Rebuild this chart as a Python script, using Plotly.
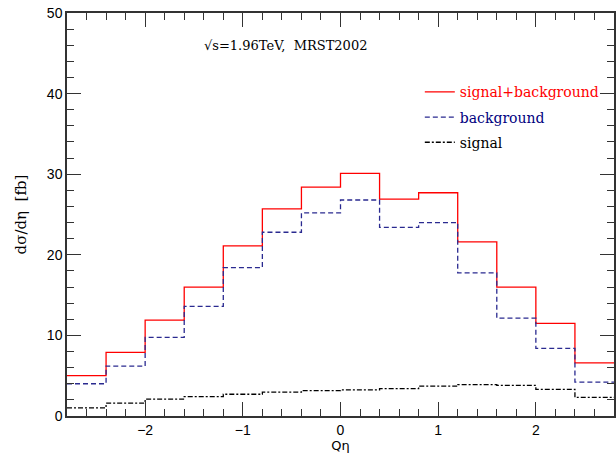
import plotly.graph_objects as go

# bin edges of Q*eta
bin_edges = [-2.8, -2.4, -2.0, -1.6, -1.2, -0.8, -0.4, 0.0, 0.4, 0.8, 1.2, 1.6, 2.0, 2.4, 2.8]
sig_plus_bkg = [5.0, 7.9, 11.9, 16.0, 21.1, 25.7, 28.4, 30.1, 26.9, 27.7, 21.6, 16.0, 11.5, 6.6]
background = [4.0, 6.2, 9.75, 13.6, 18.4, 22.8, 25.2, 26.8, 23.4, 24.0, 17.75, 12.15, 8.4, 4.2]
signal = [1.0, 1.6, 2.1, 2.4, 2.7, 2.95, 3.15, 3.25, 3.4, 3.7, 3.9, 3.8, 3.3, 2.3]

series = [
    ("signal+background", sig_plus_bkg, "#ff0000", "solid", "#ff0000"),
    ("background", background, "#2a2a90", "5px,3px", "#000080"),
    ("signal", signal, "#000000", "5px,2px,2px,2px", "#000000"),
]

fig = go.Figure()
for i, (name, vals, col, dash, tcol) in enumerate(series):
    fig.add_trace(go.Scatter(
        x=bin_edges, y=vals + [vals[-1]],
        mode="lines", line=dict(shape="hv", color=col, width=1.3, dash=dash),
        name=f"<span style='color:{tcol}'>{name}</span>",
        legendgroup=f"g{i}", hoverinfo="skip",
    ))

axis_common = dict(
    showline=True, linecolor="#333333", linewidth=1.5, mirror="ticks",
    ticks="inside", ticklen=14, tickwidth=1.2, tickcolor="#333333",
    showgrid=False, zeroline=False, ticklabeloverflow="allow",
    tickfont=dict(family="Liberation Sans, Arial", size=14, color="black"),
)

fig.update_layout(
    width=616, height=454,
    margin=dict(l=67, r=0, t=13, b=38),
    paper_bgcolor="white", plot_bgcolor="white",
    xaxis=dict(range=[-2.8, 2.8], dtick=1, tick0=0,
               minor=dict(dtick=0.2, ticklen=7, ticks="inside", tickcolor="#333333", tickwidth=1.2),
               title=dict(text="Qη", font=dict(family="DejaVu Sans", size=13, color="black"), standoff=2),
               **axis_common),
    yaxis=dict(range=[0, 50], dtick=10,
               minor=dict(dtick=2, ticklen=7, ticks="inside", tickcolor="#333333", tickwidth=1.2),
               title=dict(text="dσ/dη  [fb]", font=dict(family="DejaVu Serif", size=15, color="black"), standoff=17),
               **axis_common),
    legend=dict(x=0.645, y=0.843, xanchor="left", yanchor="top",
                bgcolor="rgba(0,0,0,0)", traceorder="grouped", tracegroupgap=4,
                font=dict(family="DejaVu Serif", size=14)),
    annotations=[dict(
        text="√s=1.96TeV,  MRST2002", xref="paper", yref="paper",
        x=0.40, y=0.92, showarrow=False, xanchor="center", yanchor="middle",
        font=dict(family="DejaVu Serif", size=13, color="black"),
    )],
)

fig.write_html(
    "out.html",
    config={"displayModeBar": False},
    post_script="document.body.style.margin='0';document.body.style.overflow='hidden';",
)
